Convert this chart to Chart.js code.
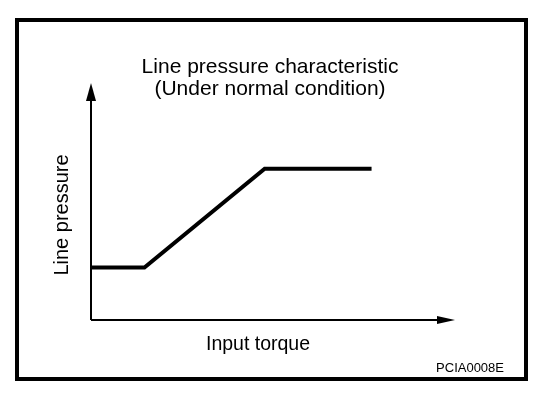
<!DOCTYPE html>
<html>
<head>
<meta charset="utf-8">
<script src="https://cdn.jsdelivr.net/npm/chart.js@4"></script>
<style>
    html, body { margin: 0; padding: 0; background: #ffffff; }
    #wrap { position: relative; width: 560px; height: 394px; }
</style>
</head>
<body>
<div id="wrap"><canvas id="pressureChart"></canvas></div>
<script>
// Chart data (arbitrary units)
const torqueValues = [0, 16, 52, 84];
const pressureValues = [25, 25, 72, 72];
const titleLines = ['Line pressure characteristic', '(Under normal condition)'];
const xAxisLabel = 'Input torque';
const yAxisLabel = 'Line pressure';
const figureCode = 'PCIA0008E';

const FONT = "'Liberation Sans', Arial, Helvetica, sans-serif";

// Frame, axis arrows and figure code
const diagramFrame = {
    id: 'diagramFrame',
    afterDraw(chart) {
        const ctx = chart.ctx;
        const area = chart.chartArea;
        ctx.save();

        // Outer border
        ctx.strokeStyle = '#000000';
        ctx.lineWidth = 4;
        ctx.strokeRect(17, 20, 509, 359);

        // Axes with arrow heads
        const yTip = area.top - 27;
        const xTip = area.right + 30;
        ctx.lineWidth = 2;
        ctx.beginPath();
        ctx.moveTo(area.left, area.bottom);
        ctx.lineTo(area.left, yTip + 10);
        ctx.moveTo(area.left, area.bottom);
        ctx.lineTo(xTip - 10, area.bottom);
        ctx.stroke();

        ctx.fillStyle = '#000000';
        ctx.beginPath();
        ctx.moveTo(area.left, yTip);
        ctx.lineTo(area.left - 5, yTip + 18);
        ctx.lineTo(area.left + 5, yTip + 18);
        ctx.closePath();
        ctx.fill();

        ctx.beginPath();
        ctx.moveTo(xTip, area.bottom);
        ctx.lineTo(xTip - 18, area.bottom - 4);
        ctx.lineTo(xTip - 18, area.bottom + 4);
        ctx.closePath();
        ctx.fill();

        // Figure code
        ctx.font = '13px ' + FONT;
        ctx.textAlign = 'right';
        ctx.textBaseline = 'alphabetic';
        ctx.fillText(figureCode, 504, 372);
        ctx.restore();
    }
};

const ctx = document.getElementById('pressureChart');

new Chart(ctx, {
    type: 'line',
    data: {
        datasets: [{
            data: torqueValues.map((t, i) => ({ x: t, y: pressureValues[i] })),
            borderColor: '#000000',
            borderWidth: 4,
            pointRadius: 0,
            tension: 0,
            fill: false
        }]
    },
    options: {
        responsive: true,
        maintainAspectRatio: false,
        animation: false,
        layout: {
            padding: { top: 40, left: 46, right: 66, bottom: 33.3 }
        },
        scales: {
            x: {
                type: 'linear',
                min: 0,
                max: 100,
                grid: { display: false, drawTicks: false },
                border: { display: false },
                ticks: { display: false },
                title: {
                    display: true,
                    text: xAxisLabel,
                    color: '#000000',
                    font: { family: FONT, size: 19.5, lineHeight: 1.2 },
                    padding: { top: 13.3, bottom: 4 }
                }
            },
            y: {
                min: 0,
                max: 100,
                grid: { display: false, drawTicks: false },
                border: { display: false },
                ticks: { display: false },
                title: {
                    display: true,
                    text: yAxisLabel,
                    color: '#000000',
                    font: { family: FONT, size: 20, lineHeight: 1.2 },
                    padding: { top: 4.5, bottom: 16.5 }
                }
            },
            // empty right-hand spacer so the chart title is centred on the frame
            spacer: {
                position: 'right',
                display: true,
                grid: { display: false, drawTicks: false },
                border: { display: false },
                ticks: { display: false },
                title: {
                    display: true,
                    text: '',
                    font: { size: 1, lineHeight: 1 },
                    padding: { top: 0, bottom: 68 }
                }
            }
        },
        plugins: {
            legend: { display: false },
            tooltip: { enabled: false },
            title: {
                display: true,
                text: titleLines,
                color: '#000000',
                font: { family: FONT, size: 21, weight: 'normal', lineHeight: 1.071 },
                padding: { top: 15.75, bottom: 9.25 }
            }
        }
    },
    plugins: [diagramFrame]
});
</script>
</body>
</html>
